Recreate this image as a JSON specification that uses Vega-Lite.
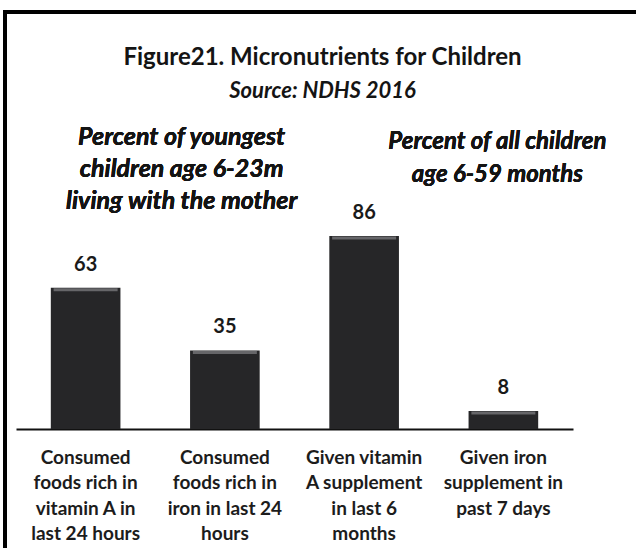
{
  "$schema": "https://vega.github.io/schema/vega-lite/v6.json",
  "width": 635,
  "height": 540,
  "autosize": {"type": "none"},
  "padding": {"left": 5, "top": 12, "right": -4, "bottom": -4},
  "background": "white",
  "config": {
    "font": "Lato",
    "view": {"stroke": "black", "strokeWidth": 4}
  },
  "title": {
    "text": "Figure21. Micronutrients for Children",
    "subtitle": "Source: NDHS 2016",
    "anchor": "middle",
    "offset": -90,
    "fontSize": 24,
    "fontWeight": "bold",
    "color": "#141414",
    "subtitleFontSize": 22,
    "subtitleFontWeight": "bold",
    "subtitleFontStyle": "italic",
    "subtitleColor": "#141414",
    "subtitlePadding": 11
  },
  "data": {
    "values": [
      {"item": "Consumed\nfoods rich in\nvitamin A in\nlast 24 hours", "pct": 63},
      {"item": "Consumed\nfoods rich in\niron in last 24\nhours", "pct": 35},
      {"item": "Given vitamin\nA supplement\nin last 6\nmonths", "pct": 86},
      {"item": "Given iron\nsupplement in\npast 7 days", "pct": 8}
    ]
  },
  "encoding": {
    "x": {
      "field": "item",
      "type": "nominal",
      "sort": null,
      "scale": {"range": [11, 568], "paddingInner": 0.5, "paddingOuter": 0.25},
      "axis": {
        "title": null,
        "orient": "bottom",
        "offset": -123,
        "domainColor": "#111111",
        "domainWidth": 2,
        "ticks": false,
        "grid": false,
        "labelAngle": 0,
        "labelExpr": "split(datum.label, '\\n')",
        "labelFontSize": 19,
        "labelFontWeight": "bold",
        "labelColor": "#1c1c1c",
        "labelLineHeight": 25.5,
        "labelPadding": 19,
        "labelBaseline": "top"
      }
    },
    "y": {
      "field": "pct",
      "type": "quantitative",
      "scale": {"domain": [0, 100], "range": [417, 192.6]},
      "axis": null
    }
  },
  "layer": [
    {
      "mark": {"type": "bar", "color": "#262628"}
    },
    {
      "mark": {"type": "tick", "color": "#727274", "thickness": 3, "size": 64, "yOffset": 2, "opacity": 0.85}
    },
    {
      "mark": {"type": "text", "dy": -23, "baseline": "middle", "fontSize": 20, "fontWeight": "bold", "color": "#1a1a1a"},
      "encoding": {"text": {"field": "pct", "type": "quantitative"}}
    },
    {
      "mark": {
        "type": "text",
        "text": ["Percent of youngest", "children age 6-23m", "living with the mother"],
        "baseline": "middle",
        "lineHeight": 32,
        "dx": 96,
        "fontSize": 25,
        "fontWeight": "bold",
        "fontStyle": "italic",
        "color": "#141414"
      },
      "encoding": {
        "x": {"datum": "Consumed\nfoods rich in\nvitamin A in\nlast 24 hours"},
        "y": {"datum": 130}
      }
    },
    {
      "mark": {
        "type": "text",
        "text": ["Percent of all children", "age 6-59 months"],
        "baseline": "middle",
        "lineHeight": 33,
        "dx": -6,
        "fontSize": 24,
        "fontWeight": "bold",
        "fontStyle": "italic",
        "color": "#141414"
      },
      "encoding": {
        "x": {"datum": "Given iron\nsupplement in\npast 7 days"},
        "y": {"datum": 128}
      }
    }
  ]
}
